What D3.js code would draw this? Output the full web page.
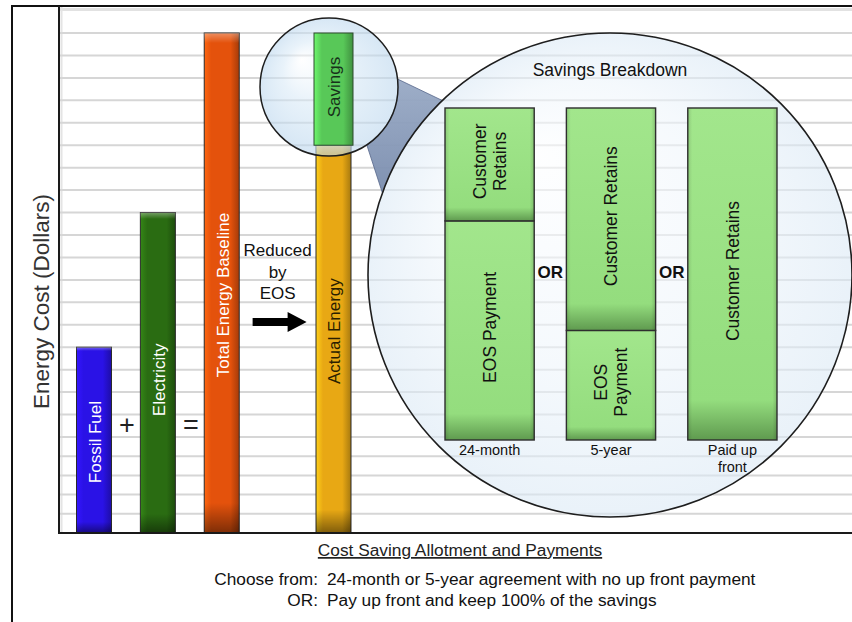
<!DOCTYPE html>
<html>
<head>
<meta charset="utf-8">
<script src="https://cdn.jsdelivr.net/npm/d3@7"></script>
<style>
	body { margin: 0; background: #fff; }
	svg { display: block; font-family: 'Liberation Sans', Arial, sans-serif; }
</style>
</head>
<body>
<div id="canvas"></div>
<script>
// main bars (value in grid units)
const barNames = ['Fossil Fuel', 'Electricity', 'Total Energy Baseline', 'Actual Energy'];
const barValues = [9, 15, 23, 18];
const barSlots = [0, 1, 2, 3.75];
const barColors = ['#2a12e6', '#2a6c12', '#e4520c', '#e8a814'];
const barText = ['#fff', '#fff', '#fff', '#2a1e00'];
const savingsValue = 5;
const operators = ['+', '='];
const operatorSlots = [0.5, 1.5];
const reducedLines = ['Reduced', 'by', 'EOS'];
const gridTicks = d3.range(1, 24);

// savings breakdown (percent of savings)
const plans = ['24-month', '5-year', 'Paid up front'];
const planLabels = [['24-month'], ['5-year'], ['Paid up', 'front']];
const eosShare = [66, 33, 0];

const noteLabels = ['Choose from:', 'OR:'];
const noteTexts = ['24-month or 5-year agreement with no up front payment', 'Pay up front and keep 100% of the savings'];

function onLoad () {
	const W = 852, H = 622;
	const svg = d3.select('#canvas').append('svg')
		.attr('width', W).attr('height', H)
		.attr('viewBox', [0, 0, W, H]);
	const defs = svg.append('defs');

	const y = d3.scaleLinear().domain([0, 5, 23]).range([533, 437, 33]);
	const x = d3.scaleLinear().domain([0, 3.75]).range([94, 333.5]);
	const bw = 35;

	// frame
	svg.append('line').attr('x1', 11).attr('x2', W).attr('y1', 6).attr('y2', 6).style('stroke', '#111').style('stroke-width', 2);
	svg.append('line').attr('x1', 12).attr('x2', 12).attr('y1', 6).attr('y2', H).style('stroke', '#111').style('stroke-width', 2);
	svg.append('line').attr('x1', 60).attr('x2', W).attr('y1', 9.5).attr('y2', 9.5).style('stroke', '#e2e2e2').style('stroke-width', 3);
	svg.append('line').attr('x1', 61.5).attr('x2', 61.5).attr('y1', 7).attr('y2', y(0)).style('stroke', '#e4e4e4').style('stroke-width', 2);

	// grid
	svg.append('g').selectAll('line').data(gridTicks).join('line')
		.attr('x1', 60).attr('x2', W)
		.attr('y1', d => y(d)).attr('y2', d => y(d))
		.style('stroke', '#d6d6d6').style('stroke-width', 2);

	// gradients for bars
	barColors.concat(['#58c858']).forEach((c, i) => {
		const g = defs.append('linearGradient').attr('id', `bar-${i}`).attr('x1', 0).attr('x2', 1).attr('y1', 0).attr('y2', 0);
		g.append('stop').attr('offset', 0).attr('stop-color', d3.color(c).brighter(0.6));
		g.append('stop').attr('offset', 0.2).attr('stop-color', c);
		g.append('stop').attr('offset', 0.75).attr('stop-color', c);
		g.append('stop').attr('offset', 1).attr('stop-color', d3.color(c).darker(0.9));
	});
	const shade = defs.append('linearGradient').attr('id', 'shade').attr('x1', 0).attr('x2', 0).attr('y1', 0).attr('y2', 1);
	shade.append('stop').attr('offset', 0).attr('stop-color', '#fff').attr('stop-opacity', 0.35);
	shade.append('stop').attr('offset', 0.02).attr('stop-color', '#fff').attr('stop-opacity', 0);
	shade.append('stop').attr('offset', 0.94).attr('stop-color', '#000').attr('stop-opacity', 0);
	shade.append('stop').attr('offset', 1).attr('stop-color', '#000').attr('stop-opacity', 0.45);

	const bars = barNames.map((name, i) => ({ name, value: barValues[i], slot: barSlots[i], i }));
	const textShift = [2, 7, 12, -8];

	const gBars = svg.append('g').attr('class', 'bars');
	const bar = gBars.selectAll('g').data(bars).join('g');
	bar.append('rect')
		.attr('x', d => x(d.slot) - bw / 2).attr('width', bw)
		.attr('y', d => y(d.value)).attr('height', d => y(0) - y(d.value))
		.style('fill', d => `url(#bar-${d.i})`)
		.style('stroke', '#2a2a2a').style('stroke-width', 1);
	bar.append('rect')
		.attr('x', d => x(d.slot) - bw / 2).attr('width', bw)
		.attr('y', d => y(d.value)).attr('height', d => y(0) - y(d.value))
		.style('fill', 'url(#shade)');
	bar.append('text')
		.attr('transform', d => `translate(${x(d.slot) + 1},${(y(d.value) + y(0)) / 2 + textShift[d.i]}) rotate(-90)`)
		.attr('text-anchor', 'middle').attr('dy', '0.35em')
		.style('font-size', '17px')
		.style('fill', d => barText[d.i])
		.text(d => d.name);

	// operators
	svg.append('g').selectAll('text').data(operators).join('text')
		.attr('x', (d, i) => x(operatorSlots[i]) + 1).attr('y', 425)
		.attr('text-anchor', 'middle').attr('dy', '0.35em')
		.style('font-size', '27px').style('fill', '#222')
		.text(d => d);

	// reduced by EOS + arrow
	const ax = (x(2) + bw / 2 + x(3.75) - bw / 2) / 2;
	svg.append('g').selectAll('text').data(reducedLines).join('text')
		.attr('x', ax).attr('y', (d, i) => 256 + i * 21.5)
		.attr('text-anchor', 'middle')
		.style('font-size', '17px').style('fill', '#111')
		.text(d => d);
	const arrowPts = [[-25, -4], [10, -4], [10, -10], [29, 0], [10, 10], [10, 4], [-25, 4]];
	svg.append('path')
		.attr('d', d3.line()(arrowPts.map(p => [ax + p[0], 322 + p[1]])) + 'Z')
		.style('fill', '#000');

	// lens / big circle geometry
	const actualX = x(barSlots[3]);
	const lens = { cx: actualX - 4.5, cy: (y(23) + y(18)) / 2 - 2, r: 69 };
	const big = { cx: 610, cy: 275, r: 242 };

	// wedge connecting lens to big circle
	const mask = defs.append('mask').attr('id', 'wedge-mask');
	mask.append('rect').attr('width', W).attr('height', H).style('fill', '#fff');
	[lens, big].forEach(c => mask.append('circle').attr('cx', c.cx).attr('cy', c.cy).attr('r', c.r - 0.5).style('fill', '#000'));
	const wg = defs.append('linearGradient').attr('id', 'wedge-grad').attr('x1', 0).attr('x2', 0).attr('y1', 0).attr('y2', 1);
	wg.append('stop').attr('offset', 0).attr('stop-color', '#9aabc6');
	wg.append('stop').attr('offset', 1).attr('stop-color', '#7689ab');
	svg.append('path')
		.attr('d', d3.line()([[385, 73], [460, 109], [386, 204], [360, 124]]) + 'Z')
		.attr('mask', 'url(#wedge-mask)')
		.style('fill', 'url(#wedge-grad)').style('fill-opacity', 0.95)
		.style('stroke', '#56668a').style('stroke-width', 0.8);

	// big circle
	const bg = defs.append('radialGradient').attr('id', 'big-grad').attr('fx', '0.35').attr('fy', '0.25');
	bg.append('stop').attr('offset', 0).attr('stop-color', '#fdfeff');
	bg.append('stop').attr('offset', 0.6).attr('stop-color', '#eef5fb');
	bg.append('stop').attr('offset', 1).attr('stop-color', '#dbe9f5');
	svg.append('circle')
		.attr('cx', big.cx).attr('cy', big.cy).attr('r', big.r)
		.style('fill', 'url(#big-grad)').style('fill-opacity', 0.6)
		.style('stroke', '#1e1e1e').style('stroke-width', 1.6);

	// lens
	const lg = defs.append('radialGradient').attr('id', 'lens-grad').attr('fx', '0.3').attr('fy', '0.3');
	lg.append('stop').attr('offset', 0).attr('stop-color', '#ffffff').attr('stop-opacity', 0.5);
	lg.append('stop').attr('offset', 0.45).attr('stop-color', '#d6e8f6').attr('stop-opacity', 0.55);
	lg.append('stop').attr('offset', 1).attr('stop-color', '#bcd7ee').attr('stop-opacity', 0.6);
	svg.append('circle')
		.attr('cx', lens.cx).attr('cy', lens.cy).attr('r', lens.r)
		.style('fill', 'url(#lens-grad)')
		.style('stroke', '#1e1e1e').style('stroke-width', 1.5);

	// savings bar on top of actual energy, inside the lens
	const sw = bw + 4;
	svg.append('rect')
		.attr('x', actualX - sw / 2).attr('width', sw)
		.attr('y', y(barValues[3] + savingsValue)).attr('height', y(barValues[3]) - y(barValues[3] + savingsValue))
		.style('fill', 'url(#bar-4)').style('stroke', '#2c4a2c').style('stroke-width', 1);
	svg.append('text')
		.attr('transform', `translate(${actualX + 1},${(y(barValues[3]) + y(barValues[3] + savingsValue)) / 2 - 2}) rotate(-90)`)
		.attr('text-anchor', 'middle').attr('dy', '0.35em')
		.style('font-size', '17px').style('fill', '#17301a')
		.text('Savings');

	// savings breakdown
	svg.append('text')
		.attr('x', big.cx).attr('y', 76)
		.attr('text-anchor', 'middle')
		.style('font-size', '17.5px').style('fill', '#111')
		.text('Savings Breakdown');

	const xb = d3.scaleBand().domain(plans).range([445, 777]).paddingInner(0.265);
	const yb = d3.scaleLinear().domain([0, 100]).range([440, 108]);

	const gg = defs.append('linearGradient').attr('id', 'box-grad').attr('x1', 0).attr('x2', 0).attr('y1', 0).attr('y2', 1);
	gg.append('stop').attr('offset', 0).attr('stop-color', '#a2e68c');
	gg.append('stop').attr('offset', 0.88).attr('stop-color', '#94dd7e');
	gg.append('stop').attr('offset', 1).attr('stop-color', '#5f9a4f');
	const gs = defs.append('linearGradient').attr('id', 'box-side').attr('x1', 0).attr('x2', 1).attr('y1', 0).attr('y2', 0);
	gs.append('stop').attr('offset', 0).attr('stop-color', '#000').attr('stop-opacity', 0.12);
	gs.append('stop').attr('offset', 0.05).attr('stop-color', '#000').attr('stop-opacity', 0);
	gs.append('stop').attr('offset', 0.95).attr('stop-color', '#000').attr('stop-opacity', 0);
	gs.append('stop').attr('offset', 1).attr('stop-color', '#000').attr('stop-opacity', 0.15);

	const segments = [];
	plans.forEach((p, i) => {
		if (eosShare[i] > 0) segments.push({ plan: p, lo: 0, hi: eosShare[i], label: 'EOS Payment' });
		segments.push({ plan: p, lo: eosShare[i], hi: 100, label: 'Customer Retains' });
	});

	const seg = svg.append('g').selectAll('g').data(segments).join('g');
	seg.append('rect')
		.attr('x', d => xb(d.plan)).attr('width', xb.bandwidth())
		.attr('y', d => yb(d.hi)).attr('height', d => yb(d.lo) - yb(d.hi))
		.style('fill', 'url(#box-grad)');
	seg.append('rect')
		.attr('x', d => xb(d.plan)).attr('width', xb.bandwidth())
		.attr('y', d => yb(d.hi)).attr('height', d => yb(d.lo) - yb(d.hi))
		.style('fill', 'url(#box-side)')
		.style('stroke', '#2e2e2e').style('stroke-width', 1.4);
	seg.each(function (d) {
		const h = yb(d.lo) - yb(d.hi);
		const lines = h < 150 ? d.label.split(' ') : [d.label];
		const t = d3.select(this).append('text')
			.attr('transform', `translate(${xb(d.plan) + xb.bandwidth() / 2},${(yb(d.lo) + yb(d.hi)) / 2 - 3}) rotate(-90)`)
			.attr('text-anchor', 'middle')
			.style('font-size', '17.5px').style('fill', '#111');
		lines.forEach((l, k) => {
			t.append('tspan').attr('x', 0)
				.attr('y', (k - (lines.length - 1) / 2) * 20)
				.attr('dy', '0.35em')
				.text(l);
		});
	});

	// plan labels
	const pl = svg.append('g').selectAll('text').data(plans).join('text')
		.attr('x', d => xb(d) + xb.bandwidth() / 2)
		.attr('text-anchor', 'middle')
		.style('font-size', '14.5px').style('fill', '#111');
	pl.selectAll('tspan').data((d, i) => planLabels[i]).join('tspan')
		.attr('x', function () { return this.parentNode.getAttribute('x'); })
		.attr('y', (d, k) => 455 + k * 17)
		.text(d => d);

	// OR between plans
	svg.append('g').selectAll('text').data(plans.slice(1)).join('text')
		.attr('x', (d, i) => (xb(plans[i]) + xb.bandwidth() + xb(d)) / 2)
		.attr('y', 272).attr('dy', '0.35em')
		.attr('text-anchor', 'middle')
		.style('font-size', '17px').style('font-weight', 'bold').style('fill', '#111')
		.text('OR');

	// axes
	svg.append('line').attr('x1', 59).attr('x2', 59).attr('y1', 6).attr('y2', y(0) + 1).style('stroke', '#1a1a1a').style('stroke-width', 2);
	svg.append('line').attr('x1', 58).attr('x2', W).attr('y1', y(0)).attr('y2', y(0)).style('stroke', '#1a1a1a').style('stroke-width', 2);

	// y label
	svg.append('text')
		.attr('transform', `translate(41,${(y(0) + 70) / 2}) rotate(-90)`)
		.attr('text-anchor', 'middle').attr('dy', '0.35em')
		.style('font-size', '22.5px').style('fill', '#333')
		.text('Energy Cost (Dollars)');

	// x caption
	svg.append('text')
		.attr('x', 460).attr('y', 556)
		.attr('text-anchor', 'middle')
		.style('font-size', '17.3px').style('fill', '#222')
		.style('text-decoration', 'underline')
		.text('Cost Saving Allotment and Payments');

	const notes = svg.append('g').selectAll('g').data(noteLabels).join('g')
		.attr('transform', (d, i) => `translate(0,${585 + i * 21})`);
	notes.append('text').attr('x', 318).attr('text-anchor', 'end')
		.style('font-size', '17.3px').style('fill', '#111').text(d => d);
	notes.append('text').attr('x', 327)
		.style('font-size', '17.3px').style('fill', '#111').text((d, i) => noteTexts[i]);
}

if (document.readyState === 'loading') {
	document.addEventListener('DOMContentLoaded', onLoad);
} else {
	onLoad();
}
</script>
</body>
</html>
